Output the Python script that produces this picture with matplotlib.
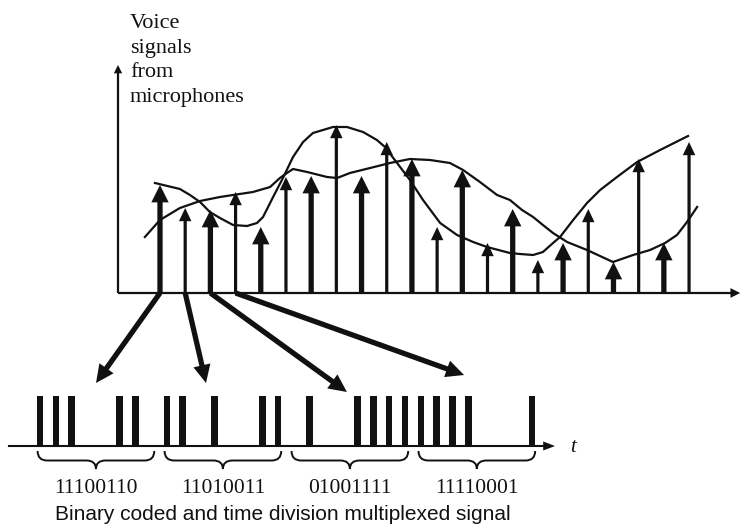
import numpy as np
import matplotlib.pyplot as plt
from matplotlib.patches import ConnectionPatch, PathPatch
from matplotlib.path import Path

# sampled levels of the voice signals, one arrow per sampling instant
sample_idx = np.arange(22)
sample_level = [10.8, 8.5, 8.3, 10.1, 6.6, 11.6, 11.7, 16.8, 11.7, 15.1, 13.4,
                6.6, 12.3, 5.0, 8.4, 3.3, 5.0, 8.4, 3.1, 13.4, 5.0, 15.1]

# the two microphone signals (sample index, level)
voice1_t = [-0.20, 0.79, 1.19, 1.59, 1.98, 2.38, 2.90, 3.45, 3.85, 4.09, 4.49,
            4.88, 5.28, 5.68, 6.07, 6.87, 7.42, 8.06, 8.61, 8.93, 9.41, 9.92,
            10.44, 11.12, 11.79, 12.43, 12.98, 13.89, 14.29, 14.81, 15.20,
            15.60, 15.88, 16.40, 16.95, 17.47, 18.14, 18.94, 19.85, 20.96]
voice1_v = [11.0, 10.4, 9.8, 9.1, 8.1, 7.5, 6.8, 6.7, 7.0, 7.6, 9.6,
            11.5, 13.6, 15.1, 16.0, 16.6, 16.6, 16.1, 15.3, 14.6, 13.0, 11.3,
            9.3, 7.0, 5.8, 5.1, 4.6, 4.0, 3.9, 3.8, 4.1,
            5.0, 5.6, 7.3, 9.0, 10.3, 11.6, 13.1, 14.3, 15.7]

voice2_t = [-0.60, 0.00, 0.79, 1.59, 2.38, 2.90, 3.69, 4.37, 4.76, 5.04, 5.28,
            5.84, 6.63, 7.03, 7.54, 8.34, 9.13, 9.92, 10.72, 11.51, 12.03,
            12.70, 13.38, 13.89, 14.37, 14.81, 15.20, 15.60, 16.16, 16.95,
            17.98, 18.78, 19.45, 20.05, 20.52, 20.92, 21.32]
voice2_v = [5.6, 7.3, 8.5, 9.2, 9.6, 9.8, 10.1, 10.6, 11.5, 12.0, 12.4,
            12.1, 11.6, 11.5, 12.0, 12.5, 13.0, 13.4, 13.3, 13.0, 12.3,
            11.1, 9.8, 9.3, 8.3, 7.6, 6.8, 6.0, 5.1, 4.3,
            3.1, 3.8, 4.3, 5.0, 5.8, 7.1, 8.6]

# binary words of the first four samples
words = ['11100110', '11010011', '01001111', '11110001']
# where the arrows from those samples land (bit index, pulse heights)
target_bit = [3.53, 10.46, 19.34, 26.72]
target_h = [1.26, 1.26, 1.08, 1.42]

ink = '#111111'
W, H = 751, 530
fig = plt.figure(figsize=(7.51, 5.30), dpi=100)


def box(x0, y0, x1, y1):
    return [x0 / W, 1 - y1 / H, (x1 - x0) / W, (y1 - y0) / H]


def arrow(ax, start, end, tail, hw, hl, z=3):
    style = f'simple,head_length={hl},head_width={hw},tail_width={tail}'
    ax.annotate('', xy=end, xytext=start,
                arrowprops=dict(arrowstyle=style, mutation_scale=1,
                                shrinkA=0, shrinkB=0, fc=ink, ec='none', lw=0),
                annotation_clip=False, zorder=z)


# ---- upper panel: sampled voice signals
ax1 = fig.add_axes(box(118, 55, 748, 293))
ax1.set_xlim(-1.667, 23.34)
ax1.set_ylim(0, 23.8)
ax1.axis('off')

x_left = ax1.get_xlim()[0]
arrow(ax1, (x_left, 0), (x_left, 22.8), 1.6, 6, 6)
arrow(ax1, (x_left, 0), (23.03, 0), 1.6, 7, 7)

ax1.plot(voice1_t, voice1_v, color=ink, lw=1.6, zorder=2, clip_on=False)
ax1.plot(voice2_t, voice2_v, color=ink, lw=1.6, zorder=2, clip_on=False)

for k, lev in zip(sample_idx, sample_level):
    if k % 2 == 0:
        arrow(ax1, (k, 0), (k, lev), 3.8, 12.5, 12.5)
    else:
        arrow(ax1, (k, 0), (k, lev), 2.3, 9, 9.5)

labels = ['Voice', 'signals', 'from', 'microphones']
for i, s in enumerate(labels):
    fig.text(130 / W, 1 - (28 + 24.7 * i) / H, s, ha='left', va='baseline',
             family='Liberation Serif', fontsize=16, color=ink)

# ---- lower panel: binary coded, time division multiplexed signal
ax2 = fig.add_axes(box(0, 370, 751, 475))
ax2.set_xlim(-2.52, 44.8)
ax2.set_ylim(-0.58, 1.52)
ax2.axis('off')

on_bits = [8 * b + i for b, w in enumerate(words) for i, c in enumerate(w) if c == '1']
ax2.bar(on_bits, 1.0, width=0.42, color=ink, zorder=3)
arrow(ax2, (-2.02, 0), (32.45, 0), 1.5, 6.5, 8.5)
ax2.text(33.4, -0.12, 't', ha='left', va='baseline', family='Liberation Serif',
         style='italic', fontsize=15, color=ink)

y_top, y_flat, y_tip, d = -0.1, -0.29, -0.46, 0.6
for b, w in enumerate(words):
    x0, x1 = 8 * b - 0.15, 8 * b + 7.2
    xm = (x0 + x1) / 2
    verts = [(x0, y_top), (x0, y_flat), (x0 + d, y_flat),
             (xm - d, y_flat), (xm, y_flat), (xm, y_tip),
             (xm, y_flat), (xm + d, y_flat),
             (x1 - d, y_flat), (x1, y_flat), (x1, y_top)]
    codes = [Path.MOVETO, Path.CURVE3, Path.CURVE3,
             Path.LINETO, Path.CURVE3, Path.CURVE3,
             Path.CURVE3, Path.CURVE3,
             Path.LINETO, Path.CURVE3, Path.CURVE3]
    ax2.add_patch(PathPatch(Path(verts, codes), fill=False, ec=ink, lw=1.4))
    ax2.text(xm, -0.94, w, ha='center', va='baseline', family='Liberation Serif',
             fontsize=15.5, color=ink)

fig.text(283 / W, 1 - 520 / H, 'Binary coded and time division multiplexed signal',
         ha='center', va='baseline', family='Liberation Sans', fontsize=15, color=ink)

# ---- arrows from the first four samples to their code words
for k in range(4):
    con = ConnectionPatch(xyA=(k, 0), coordsA=ax1.transData,
                          xyB=(target_bit[k], target_h[k]), coordsB=ax2.transData,
                          arrowstyle='simple,head_length=13,head_width=12.5,tail_width=3.8',
                          mutation_scale=1, shrinkA=0, shrinkB=0,
                          fc=ink, ec='none', lw=0, zorder=4)
    fig.add_artist(con)

fig.savefig('out.png', dpi=100, facecolor='white')
